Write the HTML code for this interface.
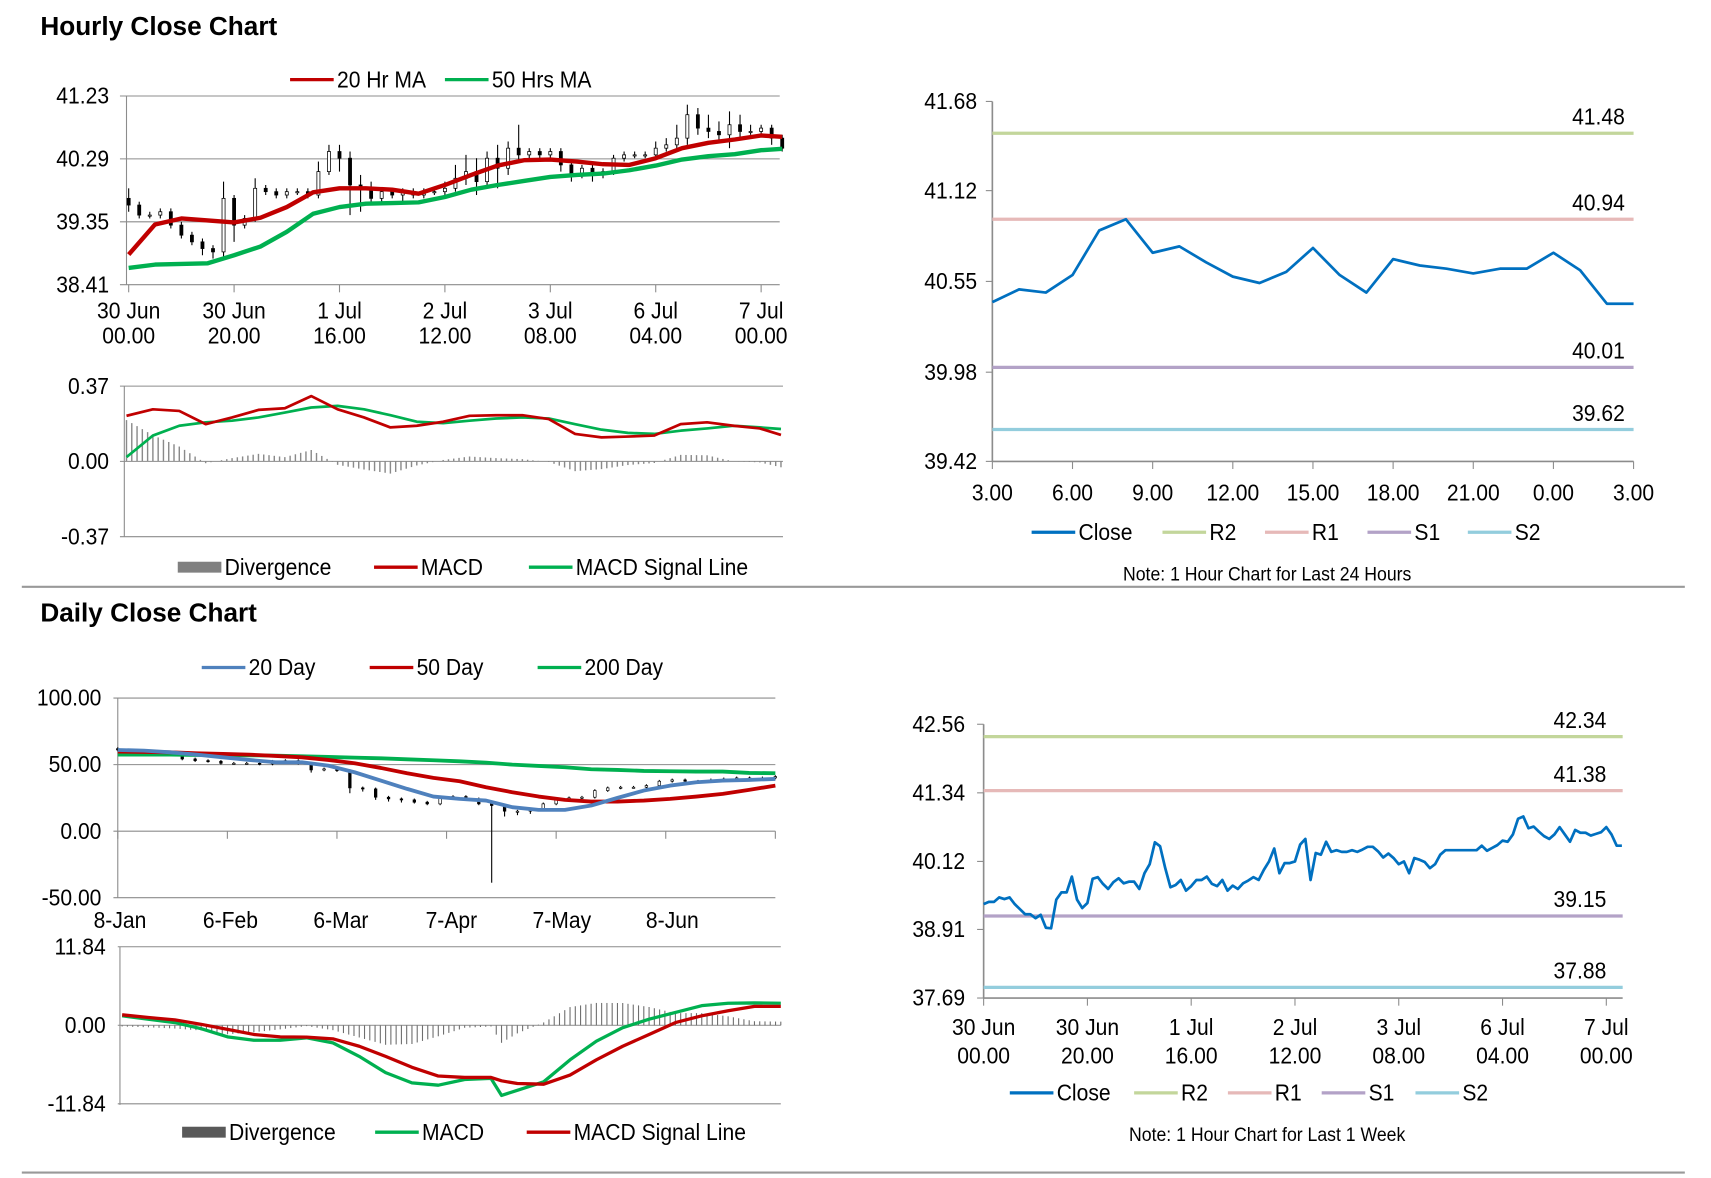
<!DOCTYPE html>
<html><head><meta charset="utf-8">
<style>
html,body{margin:0;padding:0;background:#fff;}
svg{display:block;}
text{font-family:"Liberation Sans Narrow","Liberation Sans",sans-serif;fill:#000;}
.t{font-family:"Liberation Sans",sans-serif;font-weight:bold;font-size:24px;}
</style></head>
<body>
<svg id="root" xmlns="http://www.w3.org/2000/svg" width="1711" height="1178" viewBox="0 0 1569 1080" preserveAspectRatio="none">
<rect x="0" y="0" width="1569" height="1080" fill="#fff"/>
<text class="t" x="37" y="32">Hourly Close Chart</text>
<text class="t" x="37" y="570">Daily Close Chart</text>
<line x1="20" y1="538" x2="1545" y2="538" stroke="#999" stroke-width="2"/>
<line x1="20" y1="1075" x2="1545" y2="1075" stroke="#999" stroke-width="2"/>
</svg>
<script>
// ---------- Hourly price chart ----------
const hourlyCloseHours = [0,2,4,6,8,10,12,14,16,18,20,22,24,26,28,30,32,34,36,38,40,42,44,46,48,50,52,54,56,58,60,62,64,66,68,70,72,74,76,78,80,82,84,86,88,90,92,94,96,98,100,102,104,106,108,110,112,114,116,118,120,122,124];
const hourlyClose = [39.60,39.45,39.45,39.50,39.30,39.15,39.05,38.95,38.90,39.70,39.30,39.40,39.85,39.80,39.75,39.80,39.80,39.75,40.10,40.40,40.30,39.90,39.85,39.70,39.80,39.75,39.80,39.75,39.80,39.80,39.85,40.00,40.10,39.95,40.30,40.15,40.45,40.35,40.40,40.35,40.40,40.20,40.05,40.15,40.05,40.10,40.30,40.35,40.35,40.35,40.45,40.50,40.60,40.95,40.75,40.70,40.65,40.80,40.70,40.70,40.75,40.60,40.45];
const hourlyWickUp = [0.15,0.05,0.05,0.05,0.05,0.05,0.05,0.05,0.05,0.25,0.05,0.05,0.15,0.05,0.05,0.05,0.05,0.05,0.15,0.1,0.1,0.1,0.15,0.1,0.05,0.05,0.05,0.05,0.05,0.05,0.1,0.2,0.25,0.2,0.1,0.2,0.1,0.35,0.05,0.05,0.05,0.05,0.05,0.05,0.05,0.05,0.05,0.05,0.05,0.05,0.1,0.1,0.2,0.15,0.1,0.2,0.15,0.2,0.15,0.1,0.05,0.05,0.05];
const hourlyWickDn = [0.1,0.05,0.05,0.05,0.05,0.05,0.05,0.1,0.1,0.1,0.25,0.05,0.05,0.05,0.05,0.05,0.05,0.05,0.05,0.05,0.2,0.45,0.35,0.1,0.05,0.05,0.1,0.05,0.05,0.05,0.05,0.05,0.1,0.2,0.1,0.3,0.1,0.1,0.05,0.05,0.05,0.1,0.1,0.05,0.1,0.05,0.05,0.05,0.05,0.05,0.05,0.05,0.05,0.1,0.1,0.1,0.1,0.2,0.1,0.05,0.05,0.1,0.05];
const maHours = [0,5,10,15,20,25,30,35,40,45,50,55,60,65,70,75,80,85,90,95,100,105,110,115,120,124];
const ma20 = [38.86,39.31,39.40,39.37,39.34,39.41,39.57,39.79,39.85,39.85,39.83,39.77,39.90,40.05,40.19,40.27,40.28,40.25,40.21,40.20,40.30,40.45,40.53,40.58,40.64,40.62];
const ma50 = [38.66,38.71,38.72,38.73,38.85,38.98,39.20,39.47,39.57,39.62,39.63,39.64,39.72,39.83,39.90,39.96,40.02,40.05,40.07,40.12,40.19,40.28,40.33,40.36,40.42,40.44];
const hourlyYTicks = [41.23,40.29,39.35,38.41];
const hourlyXTickHours = [0,20,40,60,80,100,120];
const hourlyXLabels1 = ["30 Jun","30 Jun","1 Jul","2 Jul","3 Jul","6 Jul","7 Jul"];
const hourlyXLabels2 = ["00.00","20.00","16.00","12.00","08.00","04.00","00.00"];
// ---------- Hourly MACD ----------
const hMacd = [0.224,0.256,0.248,0.183,0.216,0.253,0.261,0.321,0.256,0.216,0.167,0.175,0.195,0.224,0.227,0.227,0.208,0.135,0.118,0.122,0.127,0.183,0.192,0.175,0.162,0.130];
const hSignal = [0.021,0.127,0.175,0.192,0.200,0.216,0.240,0.265,0.273,0.256,0.227,0.195,0.188,0.200,0.211,0.216,0.211,0.183,0.156,0.140,0.135,0.151,0.162,0.175,0.167,0.159];
const hMacdTicks = [0.37,0.00,-0.37];
// ---------- 24h chart ----------
const dayCloseLabels = ["3.00","6.00","9.00","12.00","15.00","18.00","21.00","0.00","3.00"];
const dayClose = [40.42,40.50,40.48,40.59,40.87,40.94,40.73,40.77,40.67,40.58,40.54,40.61,40.76,40.59,40.48,40.69,40.65,40.63,40.60,40.63,40.63,40.73,40.62,40.41,40.41];
const dayLevels = [41.48,40.94,40.01,39.62];
const dayTicks = [41.68,41.12,40.55,39.98,39.42];
// ---------- Daily chart ----------
const dailyMaDays = [0,5,10,15,20,25,30,35,40,45,50,55,60,65,70,75,80,85,90,95,100,105,110,115,120,125];
const daily20 = [61,60.5,59.25,57.5,55.5,53.5,51.75,51.75,49.25,44.25,38,31.75,26,24.25,23,18,16,16,19.25,25,30.5,34.25,36.75,38,38.5,39.25];
const daily50 = [59.75,59.5,59.25,58.5,58,57.5,56.5,55.5,53.5,51,47.5,43.5,40,37.5,33,29.25,26,23.5,22.25,22.25,23,24.25,26,28,31,34.25];
const daily200 = [57.5,57.5,57.5,57.25,57.25,57,56.75,56.25,55.75,55.25,54.75,54,53.25,52.5,51.5,50,49,48,46.5,46,45.25,45,44.75,44.75,43.75,43.5];
const dailyClose = [61,60,59.25,58.5,57.5,54.25,53,52.5,51,51,51,50.5,52.5,53,51,46,46.75,45.5,32.5,31.75,25.5,24.25,23.5,21.75,20.5,25,26,24.25,20.5,19.25,15,15,16.75,20.5,24.25,25,25.5,30.5,32.5,33,33,34.25,37.5,38.5,37.5,37.5,38.5,39.25,40,40,40,41];
const dailyLowWick = [1,1,1,1,1,1,1,1,1,1,1,1,1,1,1,2,1,1,4,2,2,2,2,1,1,1,1,1,1,58,4,3,2,1,1,1,1,1,1,1,1,1,1,1,1,1,1,1,1,1,1,1];
const dailyYTicks = [100,50,0,-50];
const dailyXLabels = ["8-Jan","6-Feb","6-Mar","7-Apr","7-May","8-Jun"];
const dailyXLabelDays = [0,21,42,63,84,105];
// ---------- Daily MACD ----------
const dMacdDays = [0,5,10,15,20,25,30,35,40,45,50,55,60,65,70,72,75,80,85,90,95,100,105,110,115,120,125];
const dMacd = [1.43,0.92,0.41,-0.51,-1.74,-2.25,-2.25,-1.89,-2.65,-4.69,-7.14,-8.68,-9.03,-8.17,-8.01,-10.57,-9.80,-8.52,-5.21,-2.40,-0.36,0.92,1.94,2.96,3.32,3.37,3.32];
const dSignal = [1.58,1.17,0.82,0.15,-0.61,-1.38,-1.74,-1.79,-2.04,-3.16,-4.69,-6.33,-7.65,-7.86,-7.86,-8.37,-8.78,-8.88,-7.50,-5.21,-3.16,-1.38,0.41,1.43,2.19,2.86,2.86];
const dMacdTicks = [11.84,0.00,-11.84];
// ---------- Week chart ----------
const weekClose = [39.36,39.40,39.40,39.48,39.45,39.48,39.36,39.27,39.18,39.18,39.11,39.17,38.94,38.93,39.44,39.57,39.57,39.85,39.44,39.29,39.38,39.81,39.84,39.72,39.63,39.75,39.82,39.73,39.76,39.76,39.63,39.91,40.07,40.46,40.39,40.00,39.66,39.70,39.79,39.60,39.68,39.79,39.79,39.85,39.72,39.68,39.79,39.60,39.69,39.63,39.73,39.78,39.84,39.79,39.97,40.12,40.35,39.91,40.09,40.09,40.12,40.42,40.52,39.79,40.27,40.24,40.47,40.29,40.32,40.29,40.29,40.32,40.29,40.33,40.38,40.38,40.30,40.19,40.26,40.18,40.07,40.12,39.91,40.18,40.15,40.11,40.00,40.07,40.24,40.32,40.32,40.32,40.32,40.32,40.32,40.32,40.40,40.31,40.36,40.41,40.49,40.47,40.60,40.88,40.92,40.71,40.74,40.65,40.57,40.52,40.60,40.73,40.60,40.47,40.68,40.63,40.63,40.58,40.61,40.64,40.73,40.60,40.40,40.40];
const weekLevels = [42.34,41.38,39.15,37.88];
const weekTicks = [42.56,41.34,40.12,38.91,37.69];

const NS = "http://www.w3.org/2000/svg";
const root = document.getElementById('root');
const GRID = "#8c8c8c";
const FS = 21.5;
function mk(tag, a, name, parent) {
  const el = document.createElementNS(NS, tag);
  for (const k in a) el.setAttribute(k, a[k]);
  
  
  (parent || root).appendChild(el);
  return el;
}
function txt(x, y, s, size, anchor, name) {
  const el = mk('text', {x: 0, y: 0, 'font-size': size, 'text-anchor': anchor || 'start', transform: 'translate(' + x + ',' + y + ') scale(0.9,1)'}, name);
  el.textContent = s;
  return el;
}
function ln(x1, y1, x2, y2, color, w, name) {
  return mk('line', {x1: x1, y1: y1, x2: x2, y2: y2, stroke: color, 'stroke-width': w}, name);
}
function poly(xs, ys, color, w, name) {
  const pts = xs.map((x, i) => x.toFixed(2) + ',' + ys[i].toFixed(2)).join(' ');
  return mk('polyline', {points: pts, fill: 'none', stroke: color, 'stroke-width': w, 'stroke-linejoin': 'round'}, name);
}
function interp(xsArr, vals, x) {
  for (let i = 0; i < xsArr.length - 1; i++) {
    if (x >= xsArr[i] && x <= xsArr[i + 1]) {
      const t = (x - xsArr[i]) / (xsArr[i + 1] - xsArr[i] || 1);
      return vals[i] + t * (vals[i + 1] - vals[i]);
    }
  }
  return vals[vals.length - 1];
}
function legendLine(x, y, color, label, name, box) {
  if (box) mk('rect', {x: x, y: y - 5, width: 40, height: 10, fill: color}, name + '-swatch');
  else ln(x, y, x + 40, y, color, 3, name + '-swatch');
  txt(x + 43, y + 7, label, FS, 'start', name + '-label');
}

// ===== Hourly candle chart =====
const hx = h => 118 + h * 4.833;
const hy = v => 88 + (41.23 - v) / (41.23 - 38.41) * 173;
hourlyYTicks.forEach((v, i) => {
  const y = hy(v);
  ln(110, y, 715, y, GRID, 1, 'hourly-gridline');
  txt(100, y + 7, v.toFixed(2), FS, 'end', 'hourly-y-tick-label');
});
ln(116, 88, 116, 261, GRID, 1, 'hourly-y-axis');
hourlyXTickHours.forEach((h, i) => {
  const x = hx(h);
  ln(x, 261, x, 268, GRID, 1, 'hourly-x-tick');
  txt(x, 292, hourlyXLabels1[i], FS, 'middle', 'hourly-x-label-date');
  txt(x, 315, hourlyXLabels2[i], FS, 'middle', 'hourly-x-label-time');
});
hourlyClose.forEach((c, i) => {
  const o = i === 0 ? c + 0.1 : hourlyClose[i - 1];
  const x = hx(hourlyCloseHours[i]);
  const top = Math.max(o, c), bot = Math.min(o, c);
  ln(x, hy(top + hourlyWickUp[i]), x, hy(bot - hourlyWickDn[i]), '#000', 1, 'hourly-candle-wick');
  const hgt = Math.max(hy(bot) - hy(top), 1);
  mk('rect', {x: x - 1.4, y: hy(top), width: 2.8, height: hgt, fill: c >= o ? '#fff' : '#000', stroke: '#000', 'stroke-width': 0.7}, 'hourly-candle-body');
});
poly(maHours.map(hx), ma50.map(hy), '#00b050', 4, 'ma50-line');
poly(maHours.map(hx), ma20.map(hy), '#c00000', 4, 'ma20-line');
legendLine(266, 73, '#c00000', '20 Hr MA', 'legend-20hr-ma');
legendLine(408, 73, '#00b050', '50 Hrs MA', 'legend-50hrs-ma');

// ===== Hourly MACD =====
const mx = h => 116 + h * 4.84;
const myy = v => 423 - v / 0.37 * 69;
hMacdTicks.forEach(v => {
  const y = myy(v);
  ln(110, y, 718, y, GRID, 1, 'hourly-macd-gridline');
  txt(100, y + 7, v.toFixed(2), FS, 'end', 'hourly-macd-tick-label');
});
ln(114, 354, 114, 492, GRID, 1, 'hourly-macd-y-axis');
for (let h = 0; h <= 124; h++) {
  const d = interp(maHours, hMacd, h) - interp(maHours, hSignal, h);
  ln(mx(h), myy(0), mx(h), myy(d), '#8a8a8a', 1.3, 'hourly-divergence-bar');
}
poly(maHours.map(mx), hSignal.map(myy), '#00b050', 2.5, 'hourly-macd-signal-line');
poly(maHours.map(mx), hMacd.map(myy), '#c00000', 2.5, 'hourly-macd-line');
legendLine(163, 520, '#808080', 'Divergence', 'legend-hourly-divergence', true);
legendLine(343, 520, '#c00000', 'MACD', 'legend-hourly-macd');
legendLine(485, 520, '#00b050', 'MACD Signal Line', 'legend-hourly-signal');

// ===== 24h chart =====
const rx = i => 910 + i * 24.5;
const ry = v => 93 + (41.68 - v) / 2.26 * 330;
ln(910, 93, 910, 423, GRID, 1.5, 'day-y-axis');
ln(910, 423, 1498, 423, GRID, 1.5, 'day-x-axis');
dayTicks.forEach(v => {
  ln(904, ry(v), 910, ry(v), GRID, 1, 'day-y-tick');
  txt(896, ry(v) + 7, v.toFixed(2), FS, 'end', 'day-y-tick-label');
});
dayCloseLabels.forEach((s, i) => {
  const x = rx(i * 3);
  ln(x, 423, x, 430, GRID, 1, 'day-x-tick');
  txt(x, 459, s, FS, 'middle', 'day-x-tick-label');
});
const levelColors = ['#c3d69b', '#e6b9b8', '#b3a2c7', '#93cddd'];
const levelNames = ['r2', 'r1', 's1', 's2'];
dayLevels.forEach((v, i) => {
  ln(910, ry(v), 1498, ry(v), levelColors[i], 3, 'day-' + levelNames[i] + '-line');
  txt(1490, ry(v) - 8, v.toFixed(2), FS, 'end', 'day-' + levelNames[i] + '-label');
});
poly(dayClose.map((v, i) => rx(i)), dayClose.map(ry), '#0070c0', 2.5, 'day-close-line');
legendLine(946, 488, '#0070c0', 'Close', 'legend-day-close');
legendLine(1066, 488, '#c3d69b', 'R2', 'legend-day-r2');
legendLine(1160, 488, '#e6b9b8', 'R1', 'legend-day-r1');
legendLine(1254, 488, '#b3a2c7', 'S1', 'legend-day-s1');
legendLine(1346, 488, '#93cddd', 'S2', 'legend-day-s2');
txt(1162, 532, 'Note: 1 Hour Chart for Last 24 Hours', 18, 'middle', 'day-chart-note');

// ===== Daily chart =====
const dx = d => 108 + d * (603 / 125);
const dy = v => 762 - v / 50 * 61;
dailyYTicks.forEach(v => {
  ln(104, dy(v), 711, dy(v), GRID, 1, 'daily-gridline');
  txt(93, dy(v) + 7, v.toFixed(2), FS, 'end', 'daily-y-tick-label');
});
ln(108, 640, 108, 823, GRID, 1, 'daily-y-axis');
for (let k = 0; k <= 6; k++) ln(108 + k * 100.5, 762, 108 + k * 100.5, 769, GRID, 1, 'daily-x-tick');
dailyXLabels.forEach((s, i) => txt(dx(dailyXLabelDays[i]) + 2, 851, s, FS, 'middle', 'daily-x-tick-label'));
dailyClose.forEach((c, i) => {
  const o = i === 0 ? c + 1 : dailyClose[i - 1];
  const x = dx(i * 125 / 51);
  const top = Math.max(o, c), bot = Math.min(o, c);
  ln(x, dy(top + 1), x, dy(bot - dailyLowWick[i]), '#000', 1, 'daily-candle-wick');
  mk('rect', {x: x - 1.2, y: dy(top), width: 2.4, height: Math.max(dy(bot) - dy(top), 1), fill: c >= o ? '#fff' : '#000', stroke: '#000', 'stroke-width': 0.6}, 'daily-candle-body');
});
poly(dailyMaDays.map(dx), daily200.map(dy), '#00b050', 3.5, 'daily-200-line');
poly(dailyMaDays.map(dx), daily50.map(dy), '#c00000', 3.5, 'daily-50-line');
poly(dailyMaDays.map(dx), daily20.map(dy), '#4f81bd', 3.5, 'daily-20-line');
legendLine(185, 612, '#4f81bd', '20 Day', 'legend-20-day');
legendLine(339, 612, '#c00000', '50 Day', 'legend-50-day');
legendLine(493, 612, '#00b050', '200 Day', 'legend-200-day');

// ===== Daily MACD =====
const qx = d => 112 + d * (604 / 125);
const qy = v => 940 - v / 11.84 * 72;
dMacdTicks.forEach((v, i) => {
  ln(108, qy(v), 716, qy(v), i === 1 ? '#999' : GRID, 1, 'daily-macd-gridline');
  txt(97, qy(v) + 7, v.toFixed(2), FS, 'end', 'daily-macd-tick-label');
});
ln(110, 868, 110, 1013, GRID, 1, 'daily-macd-y-axis');
for (let d = 0; d <= 125; d++) {
  const v = interp(dMacdDays, dMacd, d) - interp(dMacdDays, dSignal, d);
  ln(qx(d), qy(0), qx(d), qy(v * 1.2), '#6e6e6e', 1, 'daily-divergence-bar');
}
poly(dMacdDays.map(qx), dMacd.map(qy), '#00b050', 3, 'daily-macd-line');
poly(dMacdDays.map(qx), dSignal.map(qy), '#c00000', 3, 'daily-macd-signal-line');
legendLine(167, 1038, '#595959', 'Divergence', 'legend-daily-divergence', true);
legendLine(344, 1038, '#00b050', 'MACD', 'legend-daily-macd');
legendLine(483, 1038, '#c00000', 'MACD Signal Line', 'legend-daily-signal');

// ===== Week chart =====
const wx = h => 902 + h * (571 / 120);
const wy = v => 664 + (42.56 - v) / 4.87 * 251;
ln(902, 664, 902, 915, GRID, 1.5, 'week-y-axis');
ln(902, 915, 1488, 915, GRID, 1.5, 'week-x-axis');
weekTicks.forEach(v => {
  ln(896, wy(v), 902, wy(v), GRID, 1, 'week-y-tick');
  txt(885, wy(v) + 7, v.toFixed(2), FS, 'end', 'week-y-tick-label');
});
hourlyXTickHours.forEach((h, i) => {
  const x = wx(h);
  ln(x, 915, x, 922, GRID, 1, 'week-x-tick');
  txt(x, 949, hourlyXLabels1[i], FS, 'middle', 'week-x-label-date');
  txt(x, 975, hourlyXLabels2[i], FS, 'middle', 'week-x-label-time');
});
weekLevels.forEach((v, i) => {
  ln(902, wy(v), 1488, wy(v), levelColors[i], 3, 'week-' + levelNames[i] + '-line');
  txt(1473, wy(v) - 8, v.toFixed(2), FS, 'end', 'week-' + levelNames[i] + '-label');
});
poly(weekClose.map((v, i) => wx(i)), weekClose.map(wy), '#0070c0', 2.5, 'week-close-line');
legendLine(926, 1002, '#0070c0', 'Close', 'legend-week-close');
legendLine(1040, 1002, '#c3d69b', 'R2', 'legend-week-r2');
legendLine(1126, 1002, '#e6b9b8', 'R1', 'legend-week-r1');
legendLine(1212, 1002, '#b3a2c7', 'S1', 'legend-week-s1');
legendLine(1298, 1002, '#93cddd', 'S2', 'legend-week-s2');
txt(1162, 1046, 'Note: 1 Hour Chart for Last 1 Week', 18, 'middle', 'week-chart-note');
</script>
</body></html>
